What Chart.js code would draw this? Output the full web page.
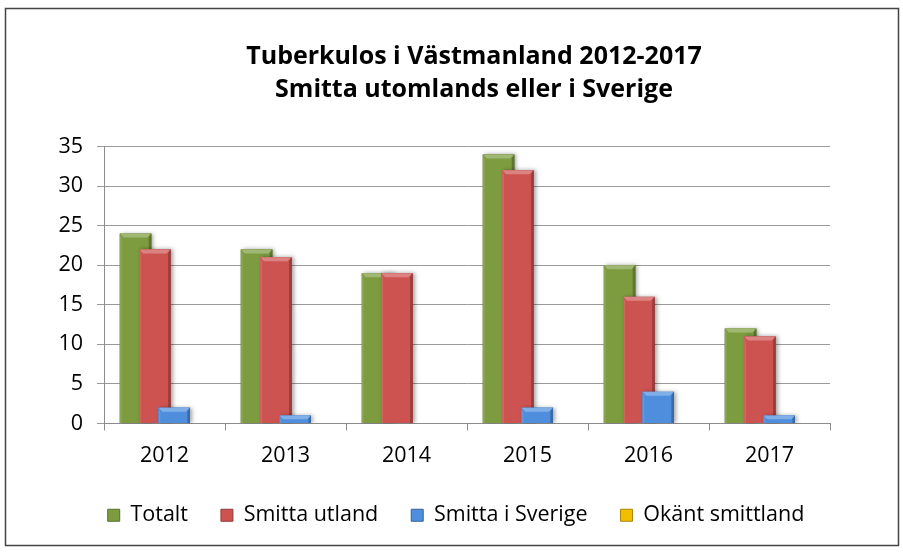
<!DOCTYPE html>
<html>
<head>
<meta charset="utf-8">
<script src="https://cdn.jsdelivr.net/npm/chart.js@4.4.1/dist/chart.umd.min.js"></script>
<style>
  html, body { margin: 0; padding: 0; background: #fff; }
  #wrap { width: 903px; height: 552px; }
</style>
</head>
<body>
<div id="wrap"><canvas id="c" width="903" height="552"></canvas></div>
<script>
// Tuberculosis cases in Västmanland by year and place of infection
const years = ['2012', '2013', '2014', '2015', '2016', '2017'];
const totalt = [24, 22, 19, 34, 20, 12];
const smittaUtland = [22, 21, 19, 32, 16, 11];
const smittaSverige = [2, 1, 0, 2, 4, 1];
const okantSmittland = [0, 0, 0, 0, 0, 0];

const seriesNames = ['Totalt', 'Smitta utland', 'Smitta i Sverige', 'Okänt smittland'];
const seriesColors = ['#7D9C3F', '#CD5351', '#4E8EDD', '#F2BE00'];
const yTicks = { min: 0, max: 35, step: 5 };

const FONT = '"Open Sans", "Liberation Sans", sans-serif';

function shade(hex, f) {
  const n = parseInt(hex.slice(1), 16);
  let r = (n >> 16) & 255, g = (n >> 8) & 255, b = n & 255;
  if (f >= 0) { r += (255 - r) * f; g += (255 - g) * f; b += (255 - b) * f; }
  else { r *= 1 + f; g *= 1 + f; b *= 1 + f; }
  return `rgb(${Math.round(r)},${Math.round(g)},${Math.round(b)})`;
}

// Bevelled bar with a soft drop shadow, drawn from the element geometry
function drawBevelBar(ctx, el, color) {
  const p = el.getProps(['x', 'y', 'base', 'width'], true);
  const left = p.x - p.width / 2, right = p.x + p.width / 2;
  const top = Math.min(p.y, p.base), bottom = Math.max(p.y, p.base);
  const h = bottom - top, w = right - left;
  if (h < 0.5) return;
  ctx.save();
  ctx.shadowColor = 'rgba(0,0,0,0.35)';
  ctx.shadowBlur = 4;
  ctx.shadowOffsetX = 2;
  ctx.shadowOffsetY = 0;
  ctx.fillStyle = shade(color, -0.2);
  ctx.fillRect(left, top, w, h);
  ctx.restore();

  const g = ctx.createLinearGradient(left, 0, right, 0);
  g.addColorStop(0, shade(color, -0.15));
  g.addColorStop(0.07, color);
  g.addColorStop(0.9, color);
  g.addColorStop(1, shade(color, -0.3));
  ctx.fillStyle = g;
  ctx.fillRect(left, top, w, h);

  const b = Math.min(4, h / 2, w / 2);
  // top bevel
  ctx.fillStyle = shade(color, 0.28);
  ctx.beginPath();
  ctx.moveTo(left, top); ctx.lineTo(right, top);
  ctx.lineTo(right - b, top + b); ctx.lineTo(left + b, top + b);
  ctx.closePath(); ctx.fill();
  // left bevel
  ctx.fillStyle = shade(color, 0.1);
  ctx.beginPath();
  ctx.moveTo(left, top); ctx.lineTo(left + b * 0.5, top + b);
  ctx.lineTo(left + b * 0.5, bottom); ctx.lineTo(left, bottom);
  ctx.closePath(); ctx.fill();
  // right bevel
  ctx.fillStyle = shade(color, -0.25);
  ctx.beginPath();
  ctx.moveTo(right, top); ctx.lineTo(right - b * 0.6, top + b);
  ctx.lineTo(right - b * 0.6, bottom); ctx.lineTo(right, bottom);
  ctx.closePath(); ctx.fill();
}

// Later series are painted over earlier ones
const bevelBars = {
  id: 'bevelBars',
  beforeDatasetsDraw(chart) {
    const ctx = chart.ctx;
    const a = chart.chartArea;
    ctx.save();
    ctx.beginPath();
    ctx.rect(a.left - 10, a.top - 10, a.right - a.left + 20, a.bottom - a.top + 10);
    ctx.clip();
    chart.data.datasets.forEach((ds, i) => {
      const meta = chart.getDatasetMeta(i);
      if (meta.hidden) return;
      meta.data.forEach(el => drawBevelBar(ctx, el, seriesColors[i]));
    });
    ctx.restore();
    return false;
  }
};

// Horizontal centring of the title and legend blocks
const centring = {
  id: 'centring',
  afterLayout(chart) {
    const shift = (box, cx) => {
      if (!box) return;
      const d = cx - (box.left + box.right) / 2;
      box.left += d; box.right += d;
    };
    shift(chart.titleBlock, 474);
    shift(chart.legend, 456);
  }
};

const frame = {
  id: 'frame',
  beforeDraw(chart) {
    const ctx = chart.ctx;
    ctx.save();
    ctx.fillStyle = '#fff';
    ctx.fillRect(0, 0, chart.width, chart.height);
    ctx.restore();
  },
  afterDraw(chart) {
    const ctx = chart.ctx;
    ctx.save();
    ctx.strokeStyle = '#444';
    ctx.lineWidth = 1.5;
    ctx.strokeRect(5.5, 8.5, 893, 537);
    ctx.restore();
  }
};

const datasetsData = [totalt, smittaUtland, smittaSverige, okantSmittland];

new Chart(document.getElementById('c'), {
  type: 'bar',
  data: {
    labels: years,
    datasets: seriesNames.map((name, i) => ({
      label: name,
      data: datasetsData[i],
      backgroundColor: seriesColors[i],
      borderColor: shade(seriesColors[i], -0.3),
      borderWidth: 0,
      categoryPercentage: 0.638,
      barPercentage: 1.63
    }))
  },
  options: {
    responsive: false,
    animation: false,
    devicePixelRatio: 1,
    layout: { padding: { left: 0, right: 73, top: 0, bottom: 16 } },
    plugins: {
      tooltip: { enabled: false },
      title: {
        display: true,
        text: ['Tuberkulos i Västmanland 2012-2017', 'Smitta utomlands eller i Sverige'],
        color: '#000',
        font: { family: FONT, size: 25, weight: 'bold', lineHeight: 1.32 },
        padding: { top: 40, bottom: 40.5 }
      },
      legend: {
        position: 'bottom',
        labels: {
          color: '#000',
          font: { family: FONT, size: 21.5 },
          boxWidth: 12,
          boxHeight: 12,
          padding: 33,
          generateLabels(chart) {
            return chart.data.datasets.map((ds, i) => ({
              text: ds.label,
              fillStyle: seriesColors[i],
              strokeStyle: shade(seriesColors[i], -0.3),
              lineWidth: 1,
              hidden: false,
              datasetIndex: i
            }));
          }
        }
      }
    },
    scales: {
      x: {
        offset: true,
        afterFit(scale) { scale.height = 48; },
        grid: { offset: true, drawOnChartArea: false, drawTicks: true, tickLength: 7, color: '#8c8c8c' },
        border: { display: true, color: '#8c8c8c', width: 1 },
        ticks: { color: '#000', font: { family: FONT, size: 21.5 }, padding: 12, maxRotation: 0 }
      },
      y: {
        min: yTicks.min,
        max: yTicks.max,
        afterFit(scale) { scale.width = 104; },
        grid: { color: '#9a9a9a', drawTicks: true, tickLength: 7 },
        border: { display: true, color: '#8c8c8c', width: 1 },
        ticks: { stepSize: yTicks.step, color: '#000', font: { family: FONT, size: 21.5 }, padding: 14 }
      }
    }
  },
  plugins: [frame, centring, bevelBars]
});
</script>
</body>
</html>
